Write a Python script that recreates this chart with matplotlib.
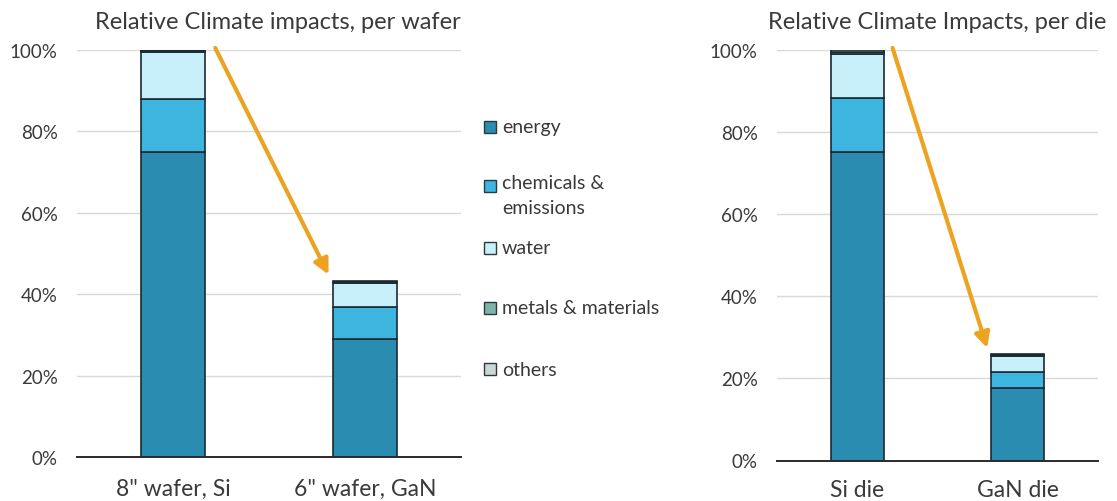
import matplotlib
matplotlib.use("Agg")
import matplotlib.pyplot as plt
from matplotlib.patches import Rectangle
from matplotlib.ticker import FuncFormatter
import numpy as np

plt.rcParams['font.family'] = ['Lato', 'DejaVu Sans']

# ---- data ----
categories = ["energy", "chemicals &\nemissions", "water", "metals & materials", "others"]
colors = ["#2B8CB2", "#3DB5DF", "#C8F0FB", "#7FB3A8", "#C9D8D3"]

wafer_labels = ['8" wafer, Si', '6" wafer, GaN']
wafer_energy = [74.9, 29.0]
wafer_chem = [13.1, 7.9]
wafer_water = [11.4, 5.85]
wafer_metals = [0.4, 0.35]
wafer_others = [0.2, 0.2]

die_labels = ["Si die", "GaN die"]
die_energy = [75.2, 17.7]
die_chem = [13.0, 3.8]
die_water = [10.8, 3.9]
die_metals = [0.6, 0.3]
die_others = [0.4, 0.2]

yticks = [0, 20, 40, 60, 80, 100]

title_wafer = "Relative Climate impacts, per wafer"
title_die = "Relative Climate Impacts, per die"

W, H = 1117, 502
fig = plt.figure(figsize=(W / 100, H / 100), dpi=100)

text_color = "#3A3A3A"
edge = "#1B2A33"
arrow_color = "#ECA420"


def draw(ax, labels, series, title, xpad):
    x = np.arange(len(labels))
    bottom = np.zeros(len(labels))
    for vals, c in zip(series, colors):
        ax.bar(x, vals, width=0.33, bottom=bottom, color=c, edgecolor=edge,
               linewidth=1.2, zorder=3)
        bottom = bottom + np.array(vals)
    ax.set_xlim(-0.5, 1.5)
    ax.set_ylim(0, 100)
    ax.set_yticks(yticks)
    ax.yaxis.set_major_formatter(FuncFormatter(lambda v, p: f"{int(v)}%"))
    ax.set_xticks(x)
    ax.set_xticklabels(labels)
    ax.grid(axis="y", color="#D9D9D9", linewidth=1.0, zorder=0)
    for s in ["top", "right", "left"]:
        ax.spines[s].set_visible(False)
    ax.spines["bottom"].set_color("#2A2A2A")
    ax.spines["bottom"].set_linewidth(1.4)
    ax.spines["bottom"].set_zorder(4)
    ax.tick_params(axis="both", length=0, labelsize=13.5, colors=text_color)
    ax.tick_params(axis="y", pad=14)
    ax.tick_params(axis="x", pad=xpad)
    for lab in ax.get_xticklabels():
        lab.set_fontsize(16.5)
    ax.set_title(title, fontsize=17, color=text_color, pad=16)
    # arrow from top of first bar to top of second bar
    ax.annotate("", xy=(x[1] - 0.19, bottom[1] + 1.5), xytext=(x[0] + 0.22, bottom[0] + 0.5),
                arrowprops=dict(arrowstyle="-|>,head_length=0.9,head_width=0.45",
                                color=arrow_color, lw=3.0, shrinkA=0, shrinkB=0),
                annotation_clip=False, zorder=5)
    return ax


ax1 = fig.add_axes([77 / W, 1 - 458 / H, (461 - 77) / W, (458 - 51) / H])
draw(ax1, wafer_labels,
     [wafer_energy, wafer_chem, wafer_water, wafer_metals, wafer_others],
     title_wafer, 15)
ax1.title.set_x(0.522)

ax2 = fig.add_axes([777 / W, 1 - 461.5 / H, (1098 - 777) / W, (461.5 - 51) / H])
draw(ax2, die_labels,
     [die_energy, die_chem, die_water, die_metals, die_others],
     title_die, 13)
ax2.title.set_x(0.5)

# ---- legend (manual, in figure pixels) ----
leg_y = [128, 187, 249, 309, 370]
for cat, c, yy in zip(categories, colors, leg_y):
    fig.patches.append(Rectangle((484 / W, 1 - (yy + 6) / H), 12 / W, 12 / H,
                                 transform=fig.transFigure, facecolor=c,
                                 edgecolor="#2A3A40", linewidth=1.0))
    if "\n" in cat:
        fig.text(502 / W, 1 - (yy - 12) / H, cat, fontsize=14, color=text_color,
                 va="top", ha="left", linespacing=1.55)
    else:
        fig.text(502 / W, 1 - yy / H, cat, fontsize=14, color=text_color,
                 va="center", ha="left")

fig.savefig("out.png", dpi=100)
